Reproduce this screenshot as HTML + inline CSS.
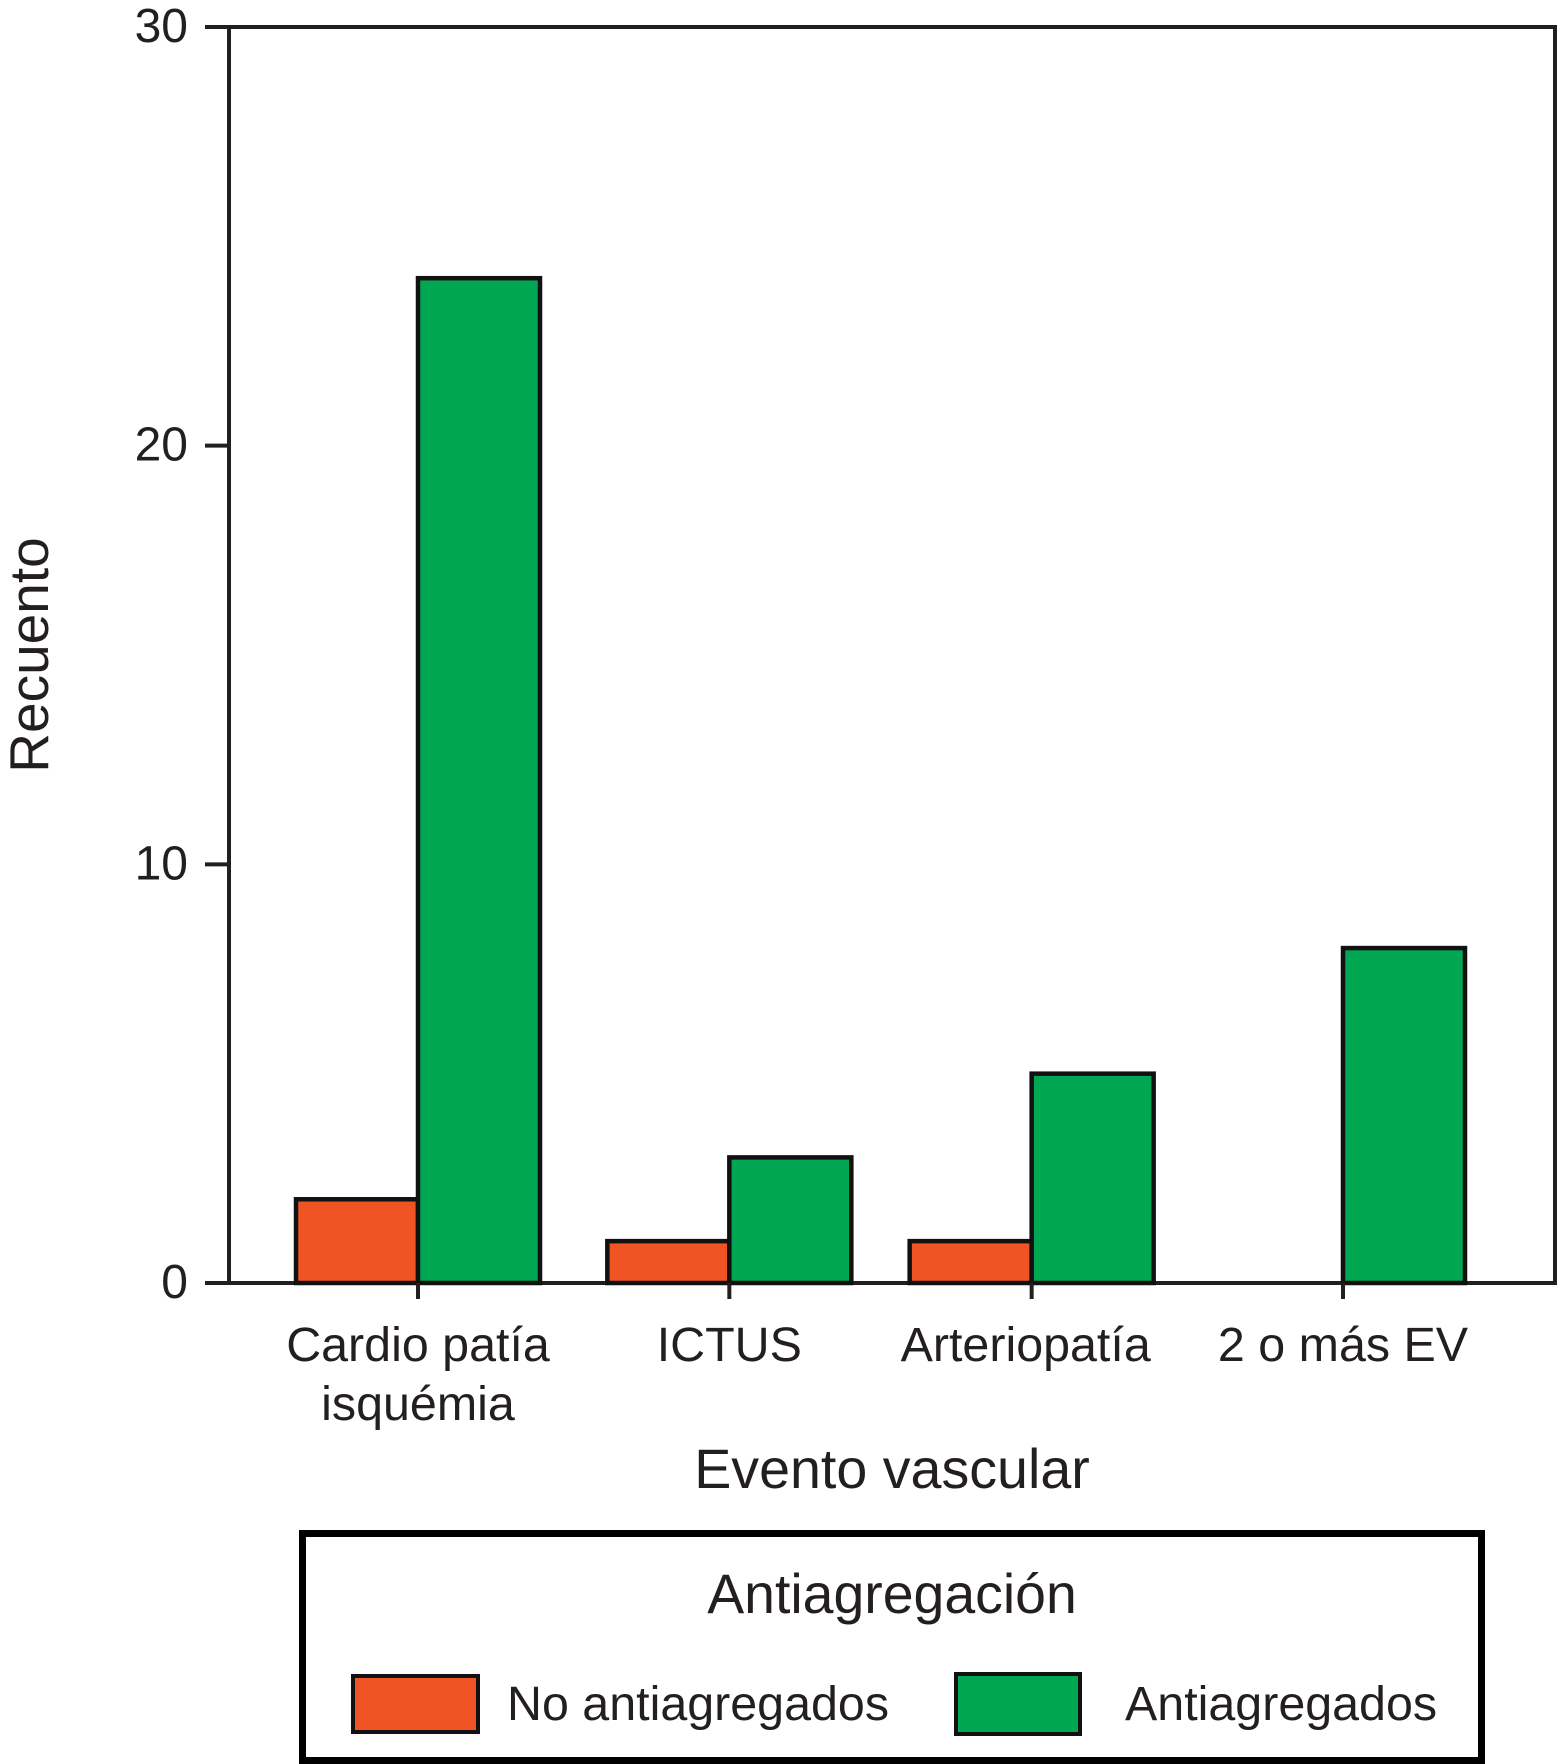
<!DOCTYPE html>
<html lang="es">
<head>
<meta charset="utf-8">
<title>Recuento por evento vascular</title>
<style>
html,body{margin:0;padding:0;background:#fff;}
body{width:1557px;height:1764px;overflow:hidden;}
svg{display:block;}
text{font-family:"Liberation Sans",Arial,sans-serif;fill:#231f20;}
</style>
</head>
<body>
<svg id="chart" xmlns="http://www.w3.org/2000/svg" width="1557" height="1764" viewBox="0 0 1557 1764">
  <rect x="229" y="27" width="1326" height="1256" fill="#fff" stroke="#231f20" stroke-width="4"/>
  <g id="y-ticks"></g>
  <g id="bars"></g>
  <g id="x-ticks"></g>
  <text transform="translate(48 655) rotate(-90)" text-anchor="middle" font-size="55">Recuento</text>
  <text x="892" y="1488" text-anchor="middle" font-size="55.6">Evento vascular</text>
  <g>
    <rect x="302.5" y="1533.5" width="1179" height="227" fill="#fff" stroke="#000" stroke-width="7"/>
    <text x="892" y="1613" text-anchor="middle" font-size="55.4">Antiagregación</text>
    <rect x="353" y="1676" width="125" height="56" fill="#f05324" stroke="#111" stroke-width="4"/>
    <text x="507" y="1720" font-size="48.4">No antiagregados</text>
    <rect x="956" y="1674" width="124" height="60" fill="#00a651" stroke="#111" stroke-width="4"/>
    <text x="1125" y="1720" font-size="48.4">Antiagregados</text>
  </g>
</svg>
<script>
const categories = [["Cardio patía", "isquémia"], ["ICTUS"], ["Arteriopatía"], ["2 o más EV"]];
const noAntiagregados = [2, 1, 1, 0];
const antiagregados = [24, 3, 5, 8];
const yTickValues = [0, 10, 20, 30];

const SVG_NS = "http://www.w3.org/2000/svg";
const plotLeft = 229, plotTop = 27, plotBottom = 1283;
const firstCenter = 418, lastCenter = 1343, barWidth = 122, yMax = 30;

function yScale(v) {
  return plotBottom - (v / yMax) * (plotBottom - plotTop);
}
function xCenter(i) {
  let nudge = 0;
  if (i === 1) nudge = 3;
  if (i === 2) nudge = -3;
  return firstCenter + i * (lastCenter - firstCenter) / (categories.length - 1) + nudge;
}
function labelCenter(i) {
  return i === 2 ? xCenter(i) - 6 : xCenter(i);
}
function make(tag, attrs, parent) {
  const el = document.createElementNS(SVG_NS, tag);
  for (const k in attrs) el.setAttribute(k, attrs[k]);
  parent.appendChild(el);
  return el;
}
function drawBar(parent, x, value, color) {
  const top = yScale(value);
  const el = make("rect", {x: x, y: top, width: barWidth, height: plotBottom - top, fill: color, stroke: "#111", "stroke-width": 4.5}, parent);
  return el;
}

const yGroup = document.getElementById("y-ticks");
yTickValues.forEach(function (v) {
  const tick = make("line", {x1: 205, x2: plotLeft, y1: yScale(v), y2: yScale(v), stroke: "#231f20", "stroke-width": 4}, yGroup);
  
  
  const label = make("text", {x: 188, y: yScale(v) + 15, "text-anchor": "end", "font-size": 48}, yGroup);
  label.textContent = v;
  
  
});

const barGroup = document.getElementById("bars");
categories.forEach(function (c, i) {
  if (noAntiagregados[i] > 0) {
    const red = drawBar(barGroup, xCenter(i) - barWidth, noAntiagregados[i], "#f05324");
    
    
  }
  if (antiagregados[i] > 0) {
    const green = drawBar(barGroup, xCenter(i), antiagregados[i], "#00a651");
    
    
  }
});

const xGroup = document.getElementById("x-ticks");
categories.forEach(function (lines, i) {
  const cx = xCenter(i);
  const tick = make("line", {x1: cx, x2: cx, y1: plotBottom, y2: 1299, stroke: "#231f20", "stroke-width": 4}, xGroup);
  
  
  lines.forEach(function (line, j) {
    const label = make("text", {x: labelCenter(i), y: 1361 + j * 59, "text-anchor": "middle", "font-size": 48.4}, xGroup);
    label.textContent = line;
    
    
  });
});
</script>
</body>
</html>
